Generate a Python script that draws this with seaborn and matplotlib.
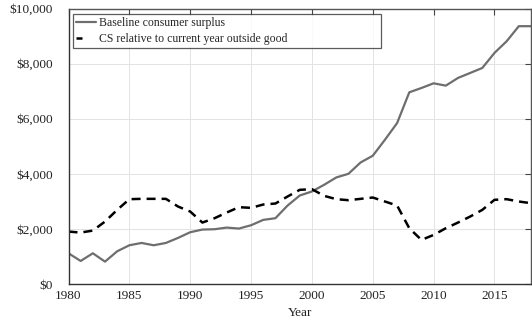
import matplotlib
matplotlib.use("Agg")
import matplotlib.pyplot as plt
from matplotlib.ticker import FuncFormatter
import seaborn as sns
import pandas as pd

years = list(range(1980, 2019))
baseline_cs = [1115, 836, 1115, 812, 1188, 1406, 1490, 1406, 1490, 1673,
               1879, 1976, 1988, 2048, 2012, 2133, 2327, 2388, 2848, 3212,
               3358, 3600, 3867, 4000, 4412, 4655, 5236, 5842, 6958, 7115,
               7285, 7200, 7479, 7660, 7842, 8388, 8812, 9358, 9358]
relative_cs = [1903, 1867, 1939, 2267, 2691, 3079, 3091, 3091, 3091, 2812,
               2630, 2230, 2388, 2594, 2788, 2764, 2885, 2921, 3176, 3418,
               3442, 3200, 3079, 3042, 3091, 3139, 2994, 2848, 2024, 1600,
               1782, 2024, 2230, 2448, 2691, 3055, 3079, 2994, 2933]
series_names = ["Baseline consumer surplus",
                "CS relative to current year outside good"]
x_ticks = [1980, 1985, 1990, 1995, 2000, 2005, 2010, 2015]
y_ticks = [0, 2000, 4000, 6000, 8000, 10000]

df = pd.DataFrame({"Year": years,
                   series_names[0]: baseline_cs,
                   series_names[1]: relative_cs})

sns.set_theme(style="whitegrid")
plt.rcParams["font.family"] = ["Liberation Serif", "DejaVu Serif"]

fig = plt.figure(figsize=(5.32, 3.23), dpi=100)
ax = fig.add_axes([68.5 / 532, 1 - 284 / 323, (531 - 68.5) / 532, (284 - 8.5) / 323])

sns.lineplot(data=df, x="Year", y=series_names[0], ax=ax, color="#6e6e6e",
             linewidth=1.6, label=series_names[0])
sns.lineplot(data=df, x="Year", y=series_names[1], ax=ax, color="black",
             linewidth=1.8, label=series_names[1])
ax.lines[1].set_dashes((3.6, 2.4))

ax.set_xlim(1980, 2018)
ax.set_ylim(0, 10000)
ax.set_xticks(x_ticks)
ax.set_yticks(y_ticks)
ax.yaxis.set_major_formatter(FuncFormatter(lambda v, p: "\\${:,.0f}".format(v)))
ax.set_xlabel("Year", fontsize=9.5, color="#222222", labelpad=4)
ax.set_ylabel("")

ax.grid(True, color="#e3e3e3", linewidth=0.7)
ax.tick_params(axis="both", direction="in", length=4, width=0.8,
               labelsize=9.5, labelcolor="#222222", color="#444444",
               top=True, right=True)
ax.tick_params(axis="x", pad=4)
ax.tick_params(axis="y", pad=11.5)
for s in ax.spines.values():
    s.set_color("#555555")
    s.set_linewidth(1.0)
ax.spines["left"].set_color("#333333")
ax.spines["bottom"].set_color("#333333")

leg = ax.legend(loc="upper left", fontsize=8.5, frameon=True, fancybox=False,
                mode="expand", bbox_to_anchor=(0.01, 0.0, 0.665, 0.98),
                handlelength=1.7, handletextpad=0.25, borderpad=0.25,
                labelspacing=0.35, borderaxespad=0.0)
leg.get_frame().set_edgecolor("#333333")
leg.get_frame().set_linewidth(0.9)
# a single short dash is enough to mark the dashed series in the key
leg.get_lines()[1].set_dashes((2.4, 12))

fig.savefig("out.png", dpi=100)
